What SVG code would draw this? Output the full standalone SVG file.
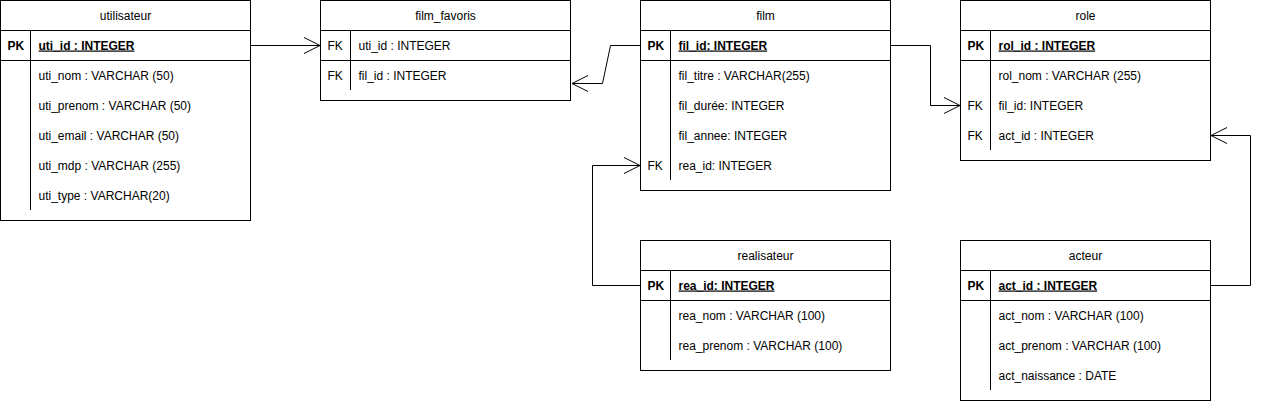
<svg xmlns="http://www.w3.org/2000/svg" width="1267" height="401" viewBox="0 0 1267 401">
<style>
text{font-family:"Liberation Sans",Arial,sans-serif;font-size:12px;fill:#000}
.h{text-anchor:middle}
.pk{font-weight:bold;text-decoration:underline}
.k{font-weight:bold}
.box{fill:#fff;stroke:#000;stroke-width:1}
.ln{stroke:#000;stroke-width:1;fill:none}
.ah{stroke:#000;stroke-width:1;fill:none}
</style>
<rect width="1267" height="401" fill="#fff"/>
<g id="connectors">
<path class="ln" d="M250.5,45.5 H320"/>
<polyline class="ah" points="304,37.5 320,45.5 304,53.5"/>
<path class="ln" d="M640.5,45.5 H610.5 L602.5,83.5 H572"/>
<polyline class="ah" points="588,75.5 572,83.5 588,91.5"/>
<path class="ln" d="M890.5,45.5 H930.5 V105.5 H960"/>
<polyline class="ah" points="944,97.5 960,105.5 944,113.5"/>
<path class="ln" d="M640.5,285.5 H592.5 V165.5 H640"/>
<polyline class="ah" points="624,157.5 640,165.5 624,173.5"/>
<path class="ln" d="M1210.5,285.5 H1250.5 V135.5 H1211"/>
<polyline class="ah" points="1227,127.5 1211,135.5 1227,143.5"/>
</g>
<g id="utilisateur">
<rect class="box" x="0.5" y="0.5" width="250" height="220"/>
<path class="ln" d="M0.5,30.5 H250.5 M0.5,60.5 H250.5 M30.5,30.5 V210"/>
<text class="h" x="125.5" y="19.5">utilisateur</text>
<text class="k" x="7.5" y="49.5">PK</text>
<text class="pk" x="38.5" y="49.5">uti_id : INTEGER</text>
<text x="38.5" y="79.5">uti_nom : VARCHAR (50)</text>
<text x="38.5" y="109.5">uti_prenom : VARCHAR (50)</text>
<text x="38.5" y="139.5">uti_email : VARCHAR (50)</text>
<text x="38.5" y="169.5">uti_mdp : VARCHAR (255)</text>
<text x="38.5" y="199.5">uti_type : VARCHAR(20)</text>
</g>
<g id="film_favoris">
<rect class="box" x="320.5" y="0.5" width="250" height="100"/>
<path class="ln" d="M320.5,30.5 H570.5 M320.5,60.5 H570.5 M350.5,30.5 V90"/>
<text class="h" x="445.5" y="19.5">film_favoris</text>
<text x="327.5" y="49.5">FK</text>
<text x="358.5" y="49.5">uti_id : INTEGER</text>
<text x="327.5" y="79.5">FK</text>
<text x="358.5" y="79.5">fil_id : INTEGER</text>
</g>
<g id="film">
<rect class="box" x="640.5" y="0.5" width="250" height="190"/>
<path class="ln" d="M640.5,30.5 H890.5 M640.5,60.5 H890.5 M670.5,30.5 V180"/>
<text class="h" x="765.5" y="19.5">film</text>
<text class="k" x="647.5" y="49.5">PK</text>
<text class="pk" x="678.5" y="49.5">fil_id: INTEGER</text>
<text x="678.5" y="79.5">fil_titre : VARCHAR(255)</text>
<text x="678.5" y="109.5">fil_durée: INTEGER</text>
<text x="678.5" y="139.5">fil_annee: INTEGER</text>
<text x="647.5" y="169.5">FK</text>
<text x="678.5" y="169.5">rea_id: INTEGER</text>
</g>
<g id="role">
<rect class="box" x="960.5" y="0.5" width="250" height="160"/>
<path class="ln" d="M960.5,30.5 H1210.5 M960.5,60.5 H1210.5 M990.5,30.5 V150"/>
<text class="h" x="1085.5" y="19.5">role</text>
<text class="k" x="967.5" y="49.5">PK</text>
<text class="pk" x="998.5" y="49.5">rol_id : INTEGER</text>
<text x="998.5" y="79.5">rol_nom : VARCHAR (255)</text>
<text x="967.5" y="109.5">FK</text>
<text x="998.5" y="109.5">fil_id: INTEGER</text>
<text x="967.5" y="139.5">FK</text>
<text x="998.5" y="139.5">act_id : INTEGER</text>
</g>
<g id="realisateur">
<rect class="box" x="640.5" y="240.5" width="250" height="130"/>
<path class="ln" d="M640.5,270.5 H890.5 M640.5,300.5 H890.5 M670.5,270.5 V360"/>
<text class="h" x="765.5" y="259.5">realisateur</text>
<text class="k" x="647.5" y="289.5">PK</text>
<text class="pk" x="678.5" y="289.5">rea_id: INTEGER</text>
<text x="678.5" y="319.5">rea_nom : VARCHAR (100)</text>
<text x="678.5" y="349.5">rea_prenom : VARCHAR (100)</text>
</g>
<g id="acteur">
<rect class="box" x="960.5" y="240.5" width="250" height="160"/>
<path class="ln" d="M960.5,270.5 H1210.5 M960.5,300.5 H1210.5 M990.5,270.5 V390"/>
<text class="h" x="1085.5" y="259.5">acteur</text>
<text class="k" x="967.5" y="289.5">PK</text>
<text class="pk" x="998.5" y="289.5">act_id : INTEGER</text>
<text x="998.5" y="319.5">act_nom : VARCHAR (100)</text>
<text x="998.5" y="349.5">act_prenom : VARCHAR (100)</text>
<text x="998.5" y="379.5">act_naissance : DATE</text>
</g>
</svg>
